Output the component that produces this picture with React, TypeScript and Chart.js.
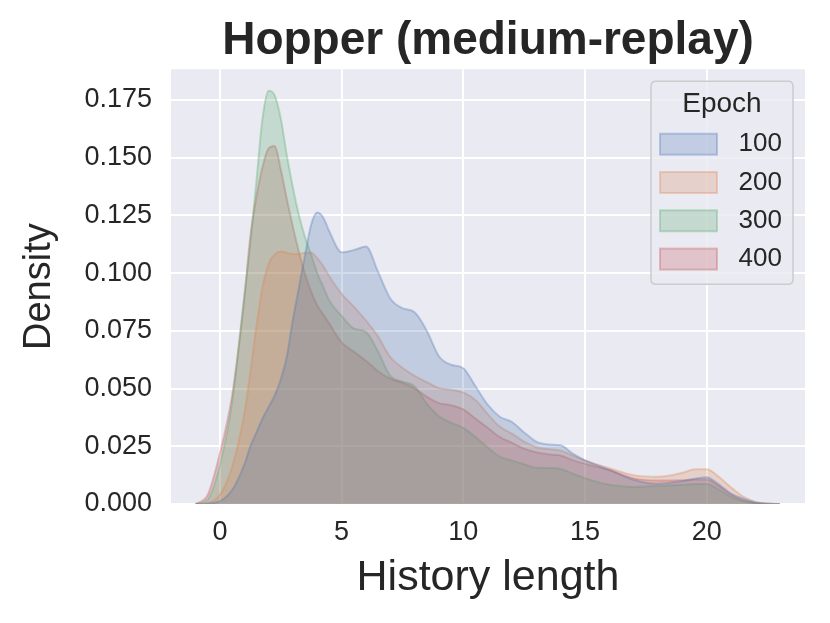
import React, { useEffect, useRef } from "react";
import { Chart, registerables } from "chart.js";

Chart.register(...registerables);

// ---- data ----
const xs = [
  -1, -0.5, 0, 0.5, 1, 1.25, 1.5, 1.75, 2, 2.25, 2.5, 2.75, 3, 3.25, 3.5, 3.75,
  4, 4.25, 4.5, 5, 5.5, 6, 6.5, 7, 7.5, 8, 8.5, 9, 9.5, 10, 10.5, 11, 11.5, 12,
  12.5, 13, 13.5, 14, 14.5, 15, 16, 17, 18, 19, 19.5, 20, 20.5, 21, 21.5, 22,
  22.5, 23,
];

const epoch100 = [
  0, 0.0002, 0.0012, 0.006, 0.017, 0.025, 0.031, 0.037, 0.042, 0.047, 0.054,
  0.064, 0.08, 0.094, 0.108, 0.121, 0.1262, 0.124, 0.118, 0.109, 0.11, 0.1115,
  0.1005, 0.089, 0.0848, 0.083, 0.075, 0.064, 0.0603, 0.0588, 0.051, 0.043,
  0.0378, 0.0355, 0.031, 0.027, 0.0258, 0.0254, 0.0218, 0.0189, 0.0148, 0.0105,
  0.0088, 0.01, 0.0109, 0.0116, 0.0085, 0.0045, 0.0023, 0.0007, 0.0001, 0,
];

const epoch200 = [
  0, 0.0004, 0.004, 0.016, 0.039, 0.057, 0.077, 0.094, 0.104, 0.108, 0.1093,
  0.1088, 0.1083, 0.1083, 0.1088, 0.1088, 0.1065, 0.103, 0.0985, 0.091, 0.0855,
  0.0795, 0.0725, 0.0637, 0.059, 0.0555, 0.0528, 0.0502, 0.0495, 0.0483, 0.045,
  0.039, 0.0335, 0.0305, 0.027, 0.0246, 0.0238, 0.0232, 0.021, 0.0189, 0.0155,
  0.0125, 0.0118, 0.0135, 0.015, 0.0151, 0.0118, 0.0072, 0.0032, 0.001, 0.0002, 0,
];

const epoch300 = [
  0, 0.002, 0.017, 0.044, 0.09, 0.113, 0.14, 0.167, 0.179, 0.177, 0.167, 0.151,
  0.137, 0.125, 0.1155, 0.108, 0.1, 0.094, 0.088, 0.0815, 0.076, 0.0745, 0.066,
  0.0555, 0.053, 0.051, 0.0435, 0.038, 0.0352, 0.033, 0.029, 0.0245, 0.0205,
  0.0188, 0.0172, 0.0157, 0.0156, 0.0152, 0.0132, 0.0112, 0.0083, 0.0074,
  0.0079, 0.0083, 0.0087, 0.0087, 0.0062, 0.003, 0.0012, 0.0003, 0, 0,
];

const epoch400 = [
  0, 0.004, 0.022, 0.047, 0.089, 0.116, 0.133, 0.146, 0.154, 0.155, 0.145,
  0.132, 0.12, 0.109, 0.0995, 0.092, 0.086, 0.082, 0.078, 0.07, 0.066, 0.062,
  0.0575, 0.0543, 0.0525, 0.05, 0.0465, 0.0437, 0.0428, 0.041, 0.037, 0.033,
  0.029, 0.0265, 0.024, 0.0224, 0.0215, 0.021, 0.019, 0.0174, 0.0147, 0.0111,
  0.0102, 0.0103, 0.0106, 0.0106, 0.0078, 0.004, 0.0015, 0.0004, 0.0001, 0,
];

const seriesLabels = ["100", "200", "300", "400"];
const xTicks = [0, 5, 10, 15, 20];
const yTicks = [0, 0.025, 0.05, 0.075, 0.1, 0.125, 0.15, 0.175];
const titleText = "Hopper (medium-replay)";
const xLabel = "History length";
const yLabel = "Density";
const legendTitle = "Epoch";

// ---- style ----
const palette = ["76,114,176", "221,132,82", "85,168,104", "196,78,82"];
const FONT = '"Liberation Sans", Arial, Helvetica, sans-serif';
const TEXT = "#262626";

const bgPlugin = {
  id: "plotBg",
  beforeDraw(chart: any) {
    const { ctx, chartArea: a } = chart;
    ctx.save();
    ctx.fillStyle = "#EAEAF2";
    ctx.fillRect(a.left, a.top, a.right - a.left, a.bottom - a.top);
    ctx.restore();
  },
};

const legendPlugin = {
  id: "kdeLegend",
  afterDraw(chart: any) {
    const { ctx, chartArea: a } = chart;
    const w = 142;
    const h = 203;
    const right = a.right - 12;
    const left = right - w;
    const top = a.top + 12;
    ctx.save();
    const r = 5;
    ctx.beginPath();
    ctx.moveTo(left + r, top);
    ctx.lineTo(right - r, top);
    ctx.quadraticCurveTo(right, top, right, top + r);
    ctx.lineTo(right, top + h - r);
    ctx.quadraticCurveTo(right, top + h, right - r, top + h);
    ctx.lineTo(left + r, top + h);
    ctx.quadraticCurveTo(left, top + h, left, top + h - r);
    ctx.lineTo(left, top + r);
    ctx.quadraticCurveTo(left, top, left + r, top);
    ctx.closePath();
    ctx.fillStyle = "rgba(234,234,242,0.8)";
    ctx.fill();
    ctx.strokeStyle = "#cccccc";
    ctx.lineWidth = 1.5;
    ctx.stroke();

    ctx.fillStyle = TEXT;
    ctx.font = `28px ${FONT}`;
    ctx.textAlign = "center";
    ctx.textBaseline = "middle";
    ctx.fillText(legendTitle, left + w / 2, top + 23);

    chart.data.datasets.forEach((ds: any, i: number) => {
      const cy = top + 63 + i * 38.3;
      ctx.fillStyle = ds.backgroundColor;
      ctx.fillRect(left + 9, cy - 10.5, 57, 21);
      ctx.strokeStyle = ds.borderColor;
      ctx.lineWidth = 2;
      ctx.strokeRect(left + 9, cy - 10.5, 57, 21);
      ctx.fillStyle = TEXT;
      ctx.font = `26px ${FONT}`;
      ctx.textAlign = "right";
      ctx.fillText(ds.label, right - 11, cy);
    });
    ctx.restore();
  },
};

export default function App() {
  const ref = useRef<HTMLCanvasElement | null>(null);

  useEffect(() => {
    if (!ref.current) return;
    const series = [epoch100, epoch200, epoch300, epoch400];
    const chart = new Chart(ref.current, {
      type: "line",
      data: {
        datasets: series.map((ys, i) => ({
          label: seriesLabels[i],
          data: xs.map((x, j) => ({ x, y: ys[j] })),
          backgroundColor: `rgba(${palette[i]},0.25)`,
          borderColor: `rgba(${palette[i]},0.32)`,
          borderWidth: 2,
          fill: "origin",
          pointRadius: 0,
          cubicInterpolationMode: "monotone" as const,
        })),
      },
      options: {
        responsive: false,
        animation: false,
        events: [],
        layout: { padding: { left: 0, right: 25, top: 0, bottom: 0 } },
        plugins: {
          legend: { display: false },
          tooltip: { enabled: false },
          title: {
            display: true,
            fullSize: false,
            text: titleText,
            color: TEXT,
            font: { family: FONT, size: 46, weight: "bold", lineHeight: 1.2 },
            padding: { top: 14, bottom: 0 },
          },
        },
        scales: {
          x: {
            type: "linear",
            min: -2.01,
            max: 24.04,
            border: { display: false },
            grid: { color: "#ffffff", lineWidth: 2, drawTicks: false },
            afterBuildTicks: (scale: any) => {
              scale.ticks = xTicks.map((v) => ({ value: v }));
            },
            afterFit: (scale: any) => {
              scale.height = 119;
            },
            ticks: {
              color: TEXT,
              padding: 12,
              font: { family: FONT, size: 27 },
              callback: (v: any) => String(v),
            },
            title: {
              display: true,
              text: xLabel,
              color: TEXT,
              font: { family: FONT, size: 43, lineHeight: 1.2 },
              padding: { top: 0, bottom: 19 },
            },
          },
          y: {
            type: "linear",
            min: 0,
            max: 0.1883,
            border: { display: false },
            grid: { color: "#ffffff", lineWidth: 2, drawTicks: false },
            afterBuildTicks: (scale: any) => {
              scale.ticks = yTicks.map((v) => ({ value: v }));
            },
            afterFit: (scale: any) => {
              scale.width = 171;
            },
            ticks: {
              color: TEXT,
              padding: 19,
              font: { family: FONT, size: 27 },
              callback: (v: any) => Number(v).toFixed(3),
            },
            title: {
              display: true,
              text: yLabel,
              color: TEXT,
              font: { family: FONT, size: 38, lineHeight: 1.2 },
              padding: { top: 17, bottom: 0 },
            },
          },
        },
      },
      plugins: [bgPlugin, legendPlugin],
    });
    return () => chart.destroy();
  }, []);

  return (
    <div style={{ position: "absolute", left: 0, top: 0, width: 830, height: 623 }}>
      <canvas ref={ref} width={830} height={623} />
    </div>
  );
}
